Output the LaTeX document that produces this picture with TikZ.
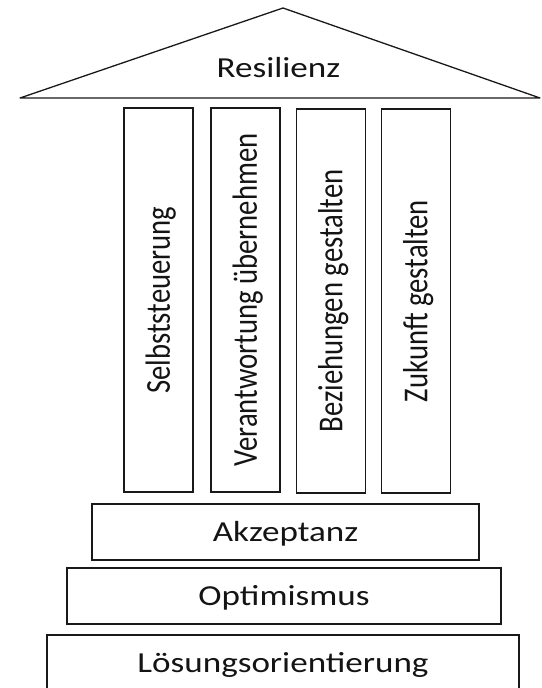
\documentclass[tikz,border=0pt]{standalone}
\usepackage{fontspec}
\setmainfont{Carlito}
\newfontfamily\wideFont{Carlito}[FakeStretch=1.21]
\newfontfamily\pillarFont{Carlito}[FakeStretch=0.82]
\usetikzlibrary{positioning}
\definecolor{lineColor}{RGB}{25,25,25}
\definecolor{textColor}{RGB}{20,20,20}
\tikzset{layer/.style={draw=lineColor, text=textColor, line width=1.7pt, inner sep=0pt, minimum height=56pt, text height=18.7pt, text depth=0pt, font=\wideFont\fontsize{29}{29}\selectfont}}
\tikzset{pillar/.style={layer, rotate=90, minimum width=384pt, minimum height=69pt, text height=22.5pt, font=\pillarFont\fontsize{35}{35}\selectfont}}
\tikzset{roof/.style={draw=lineColor, line width=1.3pt, line join=round}}
\tikzset{roofText/.style={text=textColor, inner sep=0pt, anchor=base, font=\wideFont\fontsize{29}{29}\selectfont}}

\begin{document}
\begin{tikzpicture}[x=1pt, y=-1pt]
\useasboundingbox (0,0) rectangle (541,688);

% Roof
    \coordinate (roofLeft) at (20,98);
    \coordinate (roofTop) at (283,8);
    \coordinate (roofRight) at (540,98);
    \draw [roof] (roofLeft) -- (roofTop) -- (roofRight) -- cycle;
    \node (Resilienz) [roofText] at (278.5,77) {Resilienz};

% Pillars
    \node (Selbststeuerung) [pillar] at (158.5,300) {Selbststeuerung};
    \node (Verantwortung) [pillar] at (245.5,300) {Verantwortung übernehmen};
    \node (Beziehungen) [pillar] at (331,301) {Beziehungen gestalten};
    \node (Zukunft) [pillar] at (416,301) {Zukunft gestalten};

% Base
    \node (Akzeptanz) [layer, minimum width=387pt] at (285.5,532) {Akzeptanz};
    \node (Optimismus) [layer, minimum width=434pt] at (284,596) {Optimismus};
    \node (Loesungsorientierung) [layer, minimum width=472pt] at (283,663) {Lösungsorientierung};

\end{tikzpicture}
\end{document}
